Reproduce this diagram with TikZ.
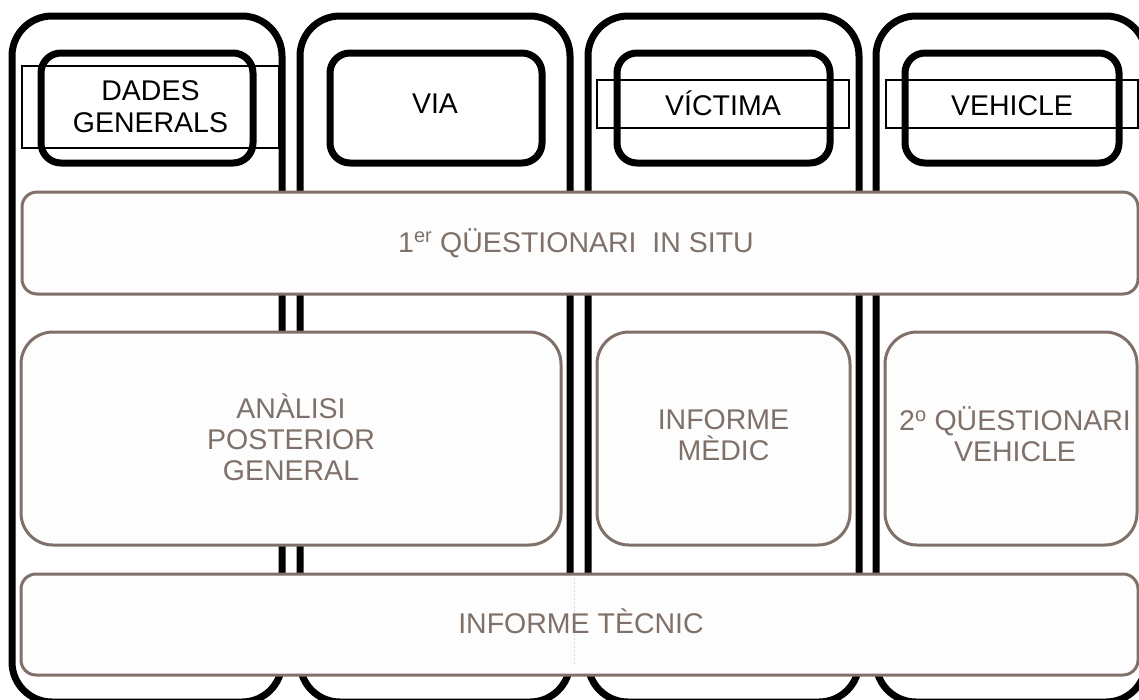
\documentclass[tikz,border=0pt]{standalone}
\usepackage{fontspec}
\setmainfont{Liberation Sans}
\definecolor{brn}{RGB}{127,113,105}
\definecolor{boxfill}{RGB}{253,253,253}
\begin{document}
\begin{tikzpicture}[x=1pt,y=-1pt,
  colbox/.style={draw=black, line width=7pt, rounded corners=40pt, inner sep=0pt,
    minimum width=270pt, minimum height=686pt},
  titlebox/.style={draw=black, line width=7pt, rounded corners=20pt, inner sep=0pt,
    minimum height=110pt},
  thinbox/.style={draw=black, line width=1.2pt, inner sep=0pt},
  blacklbl/.style={inner sep=0pt, align=center, font=\fontsize{28.5}{32}\selectfont},
  brnbox/.style={draw=brn, fill=boxfill, line width=3pt, inner sep=0pt},
  brnlbl/.style={inner sep=0pt, align=center, text=brn, font=\fontsize{28.5}{31}\selectfont},
  faint/.style={draw=black!15, line width=0.6pt, dash pattern=on 2pt off 2pt}
]
\useasboundingbox (0,0) rectangle (1139,699);
\clip (0,0) rectangle (1139,699);

% columns
\node[colbox] (c1) at (147,359) {};
\node[colbox] (c2) at (435,359) {};
\node[colbox, minimum width=271pt] (c3) at (723.5,359) {};
\node[colbox] (c4) at (1011,359) {};

% thin rectangles
\node[thinbox, minimum width=257pt, minimum height=82pt] (r1) at (150.5,107) {};
\node[thinbox, minimum width=252pt, minimum height=48pt] (r3) at (723,104) {};
\node[thinbox, minimum width=252pt, minimum height=48pt] (r4) at (1012,104) {};

% title boxes
\node[titlebox, minimum width=212pt] (t1) at (147,108) {};
\node[titlebox, minimum width=212pt] (t2) at (436,108) {};
\node[titlebox, minimum width=213pt] (t3) at (723.5,108) {};
\node[titlebox, minimum width=214pt] (t4) at (1012,108) {};

\node[blacklbl] (dg) at (150.5,107) {DADES\\GENERALS};
\node[blacklbl, anchor=base] (via) at (435,113) {VIA};
\node[blacklbl, anchor=base] (vic) at (723,115) {VÍCTIMA};
\node[blacklbl, anchor=base] (veh) at (1012,115) {VEHICLE};

% brown boxes
\node[brnbox, rounded corners=15pt, minimum width=1116pt, minimum height=102pt] (b1) at (580,243) {};
\node[brnlbl, anchor=base] (l1) at (576,252) {1\textsuperscript{er} QÜESTIONARI~~IN SITU};

\node[brnbox, rounded corners=32pt, minimum width=540pt, minimum height=213pt] (b2) at (291,438.5) {};
\node[brnlbl] (l2) at (291,437) {ANÀLISI\\POSTERIOR\\GENERAL};

\node[brnbox, rounded corners=32pt, minimum width=253pt, minimum height=213pt] (b3) at (723.5,438.5) {};
\node[brnlbl] (l3) at (723.5,435) {INFORME\\MÈDIC};

\node[brnbox, rounded corners=32pt, minimum width=252pt, minimum height=213pt] (b4) at (1011,438.5) {};
\node[brnlbl] (l4) at (1015,434) {2\textsuperscript{o} QÜESTIONARI\\VEHICLE};

\node[brnbox, rounded corners=15pt, minimum width=1117pt, minimum height=101pt] (b5) at (579.5,624.5) {};
\draw[faint] (574,578) -- (574,665);
\node[brnlbl, anchor=base] (l5) at (581,633) {INFORME TÈCNIC};
\end{tikzpicture}
\end{document}
